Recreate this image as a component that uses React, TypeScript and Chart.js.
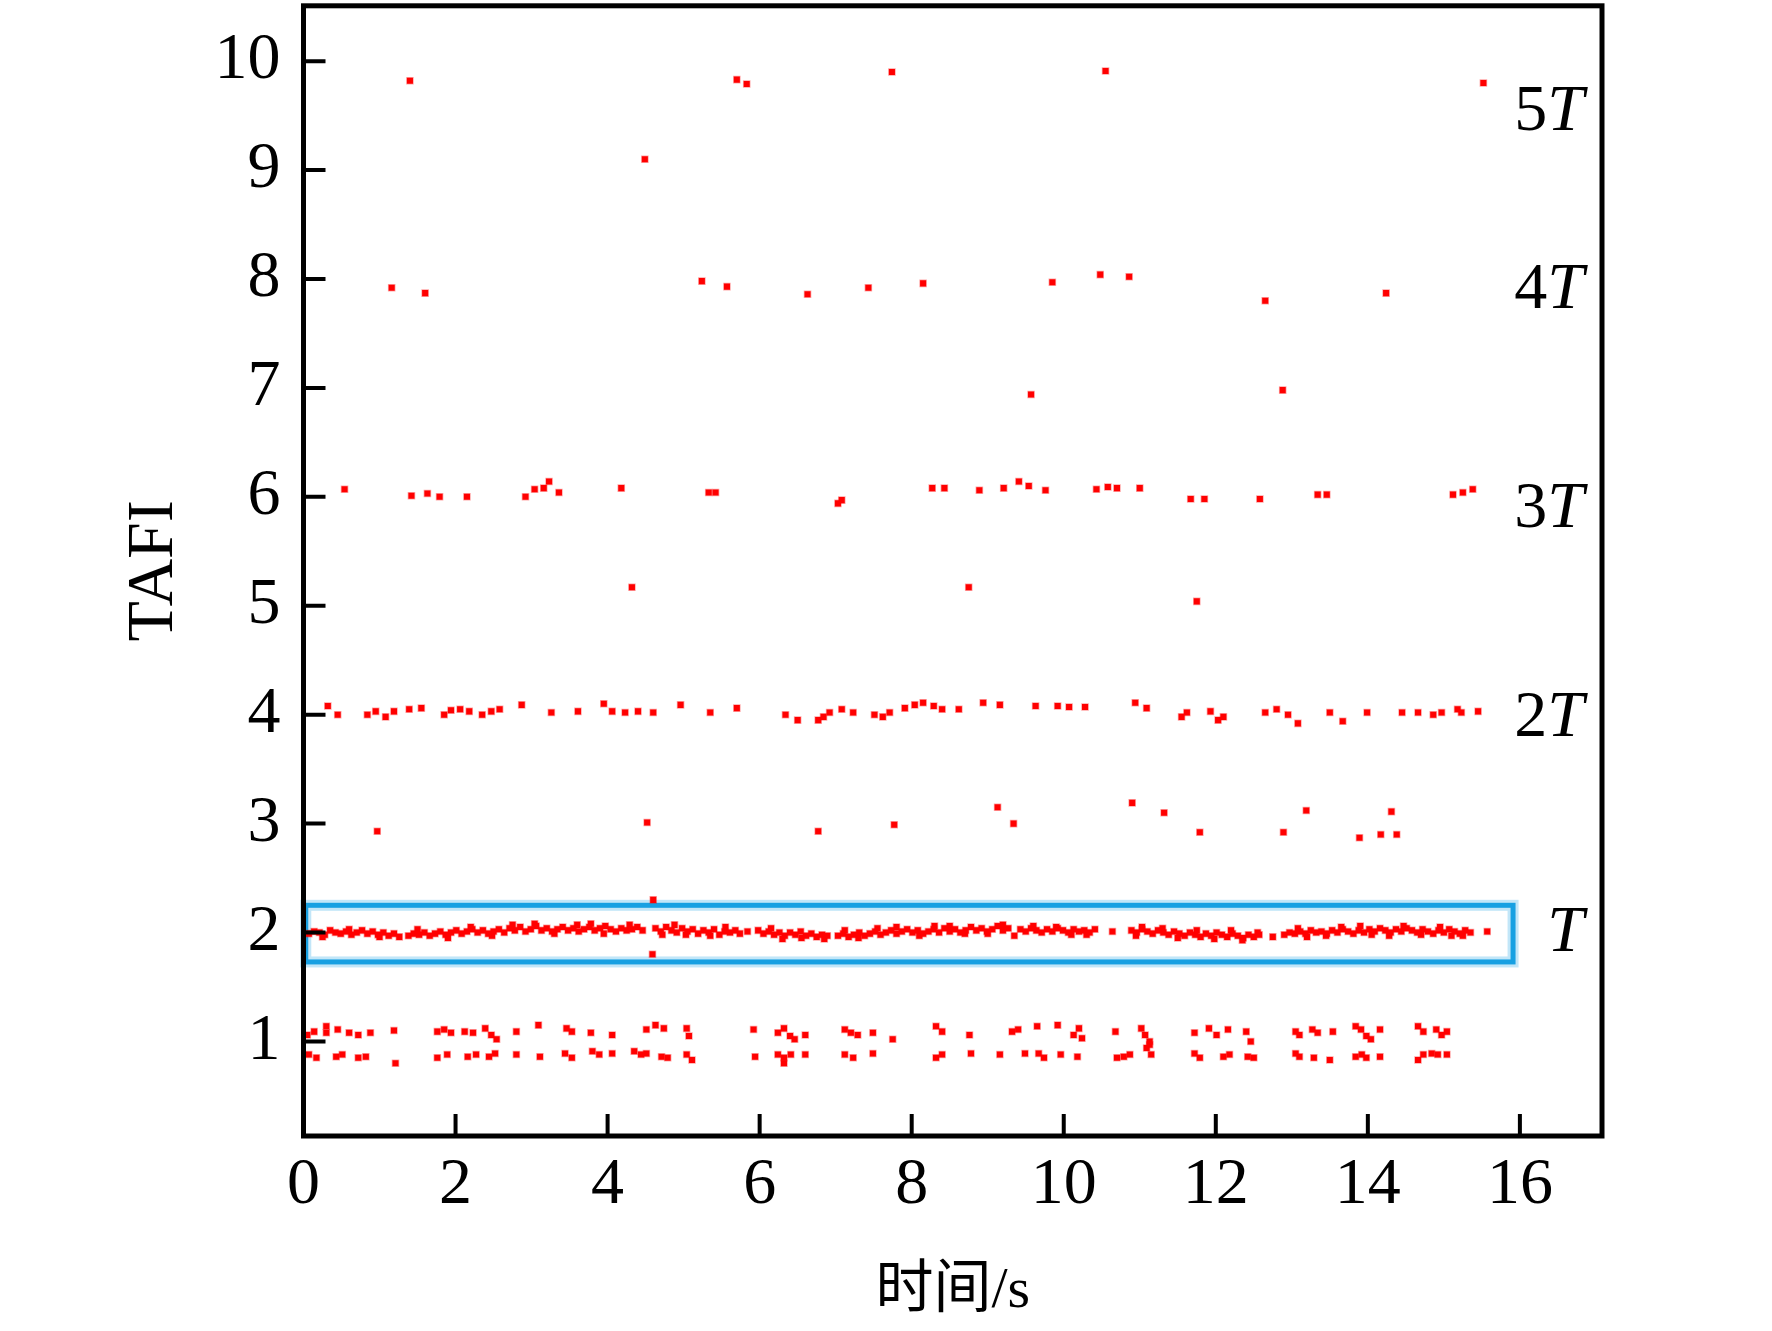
import { useEffect, useRef } from 'react';
import Chart from 'chart.js/auto';

// axis tick labels
const timeTicks = [0, 2, 4, 6, 8, 10, 12, 14, 16];
const tafiTicks = [1, 2, 3, 4, 5, 6, 7, 8, 9, 10];

// interval multiples written at the right edge and the TAFI level of each
const levelNames = ['5T', '4T', '3T', '2T', 'T'];
const levelTafi = [9.53, 7.89, 5.88, 3.96, 1.99];

// blue box round the T band
const boxTime = [0.03, 15.91];
const boxTafi = [1.73, 2.25];

type Pt = [number, number]; // [time s, TAFI]

const level10: Pt[] = [[1.40, 9.82], [5.70, 9.83], [5.83, 9.79], [7.74, 9.90], [10.55, 9.91], [15.52, 9.80]];
const level9: Pt[] = [[4.49, 9.10]];
const level8: Pt[] = [
  [1.16, 7.92], [1.60, 7.87], [5.24, 7.98], [5.57, 7.93], [6.63, 7.86], [7.43, 7.92],
  [8.15, 7.96], [9.85, 7.97], [10.48, 8.04], [10.86, 8.02], [12.65, 7.80], [14.24, 7.87],
];
const level7: Pt[] = [[9.57, 6.94], [12.88, 6.98]];
const level6: Pt[] = [
  [0.54, 6.07], [1.42, 6.01], [1.63, 6.03], [1.79, 6.00], [2.15, 6.00], [2.92, 6.00], [3.04, 6.07],
  [3.16, 6.08], [3.23, 6.14], [3.36, 6.04], [4.18, 6.08], [5.33, 6.04], [5.42, 6.04], [7.03, 5.94],
  [7.08, 5.97], [8.27, 6.08], [8.43, 6.08], [8.89, 6.06], [9.21, 6.08], [9.41, 6.14], [9.54, 6.10],
  [9.76, 6.06], [10.43, 6.07], [10.58, 6.09], [10.70, 6.08], [11.00, 6.08], [11.67, 5.98], [11.85, 5.98],
  [12.58, 5.98], [13.34, 6.02], [13.46, 6.02], [15.12, 6.02], [15.25, 6.04], [15.38, 6.07],
];
const level5: Pt[] = [[4.32, 5.17], [8.75, 5.17], [11.75, 5.04]];
const level4: Pt[] = [
  [0.32, 4.08], [0.45, 4.00], [0.84, 4.00], [0.95, 4.03], [1.08, 3.98], [1.19, 4.03], [1.39, 4.05],
  [1.55, 4.06], [1.85, 4.00], [1.94, 4.04], [2.06, 4.05], [2.18, 4.03], [2.35, 4.00], [2.47, 4.03],
  [2.58, 4.05], [2.87, 4.09], [3.26, 4.02], [3.61, 4.03], [3.95, 4.10], [4.06, 4.03], [4.23, 4.02],
  [4.40, 4.03], [4.60, 4.02], [4.96, 4.09], [5.35, 4.02], [5.70, 4.06], [6.34, 4.00], [6.50, 3.95],
  [6.77, 3.95], [6.84, 3.98], [6.92, 4.02], [7.08, 4.05], [7.23, 4.02], [7.51, 4.00], [7.62, 3.98],
  [7.71, 4.02], [7.91, 4.06], [8.04, 4.09], [8.15, 4.11], [8.29, 4.08], [8.40, 4.05], [8.62, 4.05],
  [8.94, 4.11], [9.16, 4.09], [9.63, 4.08], [9.92, 4.08], [10.07, 4.07], [10.28, 4.07], [10.94, 4.11],
  [11.09, 4.06], [11.55, 3.98], [11.62, 4.02], [11.93, 4.03], [12.03, 3.95], [12.10, 3.98], [12.65, 4.02],
  [12.80, 4.05], [12.95, 4.00], [13.08, 3.92], [13.50, 4.02], [13.67, 3.94], [13.99, 4.02], [14.45, 4.02],
  [14.66, 4.02], [14.86, 4.00], [14.97, 4.02], [15.18, 4.05], [15.23, 4.02], [15.45, 4.03],
];
const level3: Pt[] = [
  [0.97, 2.93], [4.52, 3.01], [6.77, 2.93], [7.77, 2.99], [9.13, 3.15], [9.34, 3.00], [10.90, 3.19],
  [11.32, 3.10], [11.79, 2.92], [12.89, 2.92], [13.19, 3.12], [13.89, 2.87], [14.17, 2.90], [14.31, 3.11],
  [14.38, 2.90],
];

// the dense T band, piece by piece
const bandT1: Pt[] = [
  [0.07, 1.99], [0.14, 2.01], [0.21, 2.00], [0.28, 1.98], [0.35, 2.02], [0.42, 2.00], [0.49, 1.99],
  [0.56, 2.01], [0.63, 1.98], [0.70, 2.00], [0.77, 2.02], [0.84, 1.99], [0.91, 2.01], [0.98, 1.98],
  [1.05, 2.00], [1.12, 1.97], [1.19, 1.99], [1.26, 1.96], [1.38, 1.97], [1.45, 1.99], [1.52, 1.98],
  [1.59, 2.00], [1.66, 1.97], [1.73, 1.99], [1.80, 2.01], [1.87, 1.98], [1.94, 2.00], [2.01, 2.02],
  [2.08, 1.99], [2.15, 2.01], [2.22, 2.03], [2.29, 2.00], [2.36, 2.02], [2.43, 1.99], [2.50, 2.01],
  [2.57, 2.03], [2.64, 2.00], [2.71, 2.04], [2.78, 2.02], [2.85, 2.05], [2.92, 2.01], [2.99, 2.03],
  [3.06, 2.06], [3.13, 2.02], [3.20, 2.04], [3.27, 2.01], [3.34, 2.03], [3.41, 2.05], [3.48, 2.02],
  [3.55, 2.04], [3.62, 2.01], [3.69, 2.03], [3.76, 2.05], [3.83, 2.02], [3.90, 2.04], [3.97, 2.06],
  [4.04, 2.03], [4.11, 2.01], [4.18, 2.04], [4.25, 2.02], [4.32, 2.03], [4.39, 2.05], [4.46, 2.02],
];
const bandT2: Pt[] = [
  [4.63, 2.04], [4.70, 2.01], [4.77, 2.05], [4.84, 2.02], [4.91, 2.00], [4.98, 2.04], [5.05, 2.01],
  [5.12, 2.03], [5.19, 1.99], [5.26, 2.02], [5.33, 2.00], [5.40, 2.03], [5.47, 1.98], [5.54, 2.01],
  [5.61, 2.00], [5.68, 2.02], [5.74, 1.99], [5.84, 2.01],
];
const bandT3: Pt[] = [
  [5.98, 2.02], [6.05, 1.99], [6.12, 2.01], [6.19, 1.98], [6.26, 2.00], [6.33, 1.97], [6.40, 2.00],
  [6.47, 1.98], [6.54, 2.01], [6.61, 1.97], [6.68, 1.99], [6.75, 1.96], [6.82, 1.98], [6.89, 1.97],
  [7.03, 1.97], [7.10, 1.99], [7.17, 1.96], [7.24, 1.98], [7.31, 2.00], [7.38, 1.97], [7.45, 1.99],
  [7.52, 2.01], [7.59, 1.98], [7.66, 2.00], [7.73, 2.02], [7.80, 1.99], [7.87, 2.01], [7.94, 2.03],
  [8.01, 2.00], [8.08, 2.02], [8.15, 1.99], [8.22, 2.01], [8.29, 2.03], [8.36, 2.00], [8.43, 2.04],
  [8.50, 2.01], [8.57, 2.03], [8.64, 2.00], [8.71, 2.02], [8.78, 2.05], [8.85, 2.02], [8.92, 2.04],
  [8.99, 2.01], [9.06, 2.03], [9.13, 2.06], [9.20, 2.02], [9.27, 2.04], [9.43, 2.03], [9.50, 2.01],
  [9.57, 2.04], [9.64, 2.02], [9.71, 2.00], [9.78, 2.03], [9.85, 2.01], [9.92, 2.04], [9.99, 2.02],
  [10.06, 2.00], [10.13, 2.03], [10.20, 2.01], [10.27, 2.02], [10.34, 2.00], [10.41, 2.03], [10.64, 2.01],
];
const bandT4: Pt[] = [
  [10.89, 2.02], [10.96, 2.00], [11.03, 2.03], [11.10, 2.01], [11.17, 1.99], [11.24, 2.02], [11.31, 2.00],
  [11.38, 1.98], [11.45, 2.01], [11.52, 1.99], [11.59, 1.97], [11.66, 2.00], [11.73, 1.98], [11.80, 1.96],
  [11.87, 1.99], [11.94, 1.97], [12.01, 2.00], [12.08, 1.98], [12.15, 1.96], [12.22, 1.99], [12.29, 1.97],
  [12.36, 1.95], [12.43, 1.98], [12.50, 1.96], [12.57, 1.98], [12.75, 1.96],
];
const bandT5: Pt[] = [
  [12.90, 1.98], [12.97, 2.00], [13.04, 1.99], [13.11, 2.01], [13.18, 1.99], [13.25, 2.02], [13.32, 2.00],
  [13.39, 2.01], [13.46, 1.99], [13.53, 2.02], [13.60, 2.00], [13.67, 2.03], [13.74, 2.01], [13.81, 1.99],
  [13.88, 2.02], [13.95, 2.00], [14.02, 2.03], [14.09, 2.01], [14.16, 2.04], [14.23, 2.02], [14.30, 2.00],
  [14.37, 2.03], [14.44, 2.01], [14.51, 2.04], [14.58, 2.02], [14.65, 2.00], [14.72, 2.03], [14.79, 2.01],
  [14.86, 1.99], [14.93, 2.02], [15.00, 2.00], [15.07, 2.03], [15.14, 2.01], [15.21, 1.99], [15.28, 2.02],
  [15.35, 2.00], [15.57, 2.01],
];
const bandTSpread: Pt[] = [
  [0.25, 1.96], [0.60, 2.03], [1.00, 1.96], [1.50, 2.03], [1.90, 1.95], [2.20, 2.05], [2.48, 1.97],
  [2.75, 2.07], [3.04, 2.08], [3.30, 1.99], [3.60, 2.07], [3.78, 2.08], [3.95, 1.99], [4.29, 2.07],
  [4.72, 1.98], [4.88, 2.07], [5.03, 1.98], [5.35, 1.97], [5.55, 2.05], [6.15, 2.04], [6.30, 1.94],
  [6.55, 1.95], [6.85, 1.94], [7.12, 2.02], [7.30, 1.95], [7.55, 2.04], [7.80, 2.05], [8.10, 1.97],
  [8.30, 2.06], [8.50, 2.06], [8.70, 1.99], [9.00, 1.99], [9.20, 2.07], [9.35, 1.97], [9.60, 2.06],
  [9.90, 2.05], [10.10, 1.98], [10.30, 1.98], [10.95, 1.97], [11.03, 2.05], [11.30, 2.04], [11.50, 1.95],
  [11.75, 2.02], [11.98, 1.94], [12.20, 2.02], [12.35, 1.93], [12.55, 2.00], [13.08, 2.04], [13.20, 1.96],
  [13.45, 1.97], [13.65, 2.05], [13.90, 2.06], [14.05, 1.98], [14.28, 1.97], [14.47, 2.06], [14.70, 1.98],
  [14.95, 2.05], [15.10, 1.97], [15.25, 1.97],
  [4.60, 2.30], [4.59, 1.80],
];

// the two rows near TAFI = 1
const band1Upper: Pt[] = [
  [0.05, 1.06], [0.14, 1.09], [0.30, 1.14], [0.30, 1.08], [0.45, 1.11], [0.60, 1.08], [0.72, 1.06],
  [0.88, 1.08], [1.19, 1.10], [1.76, 1.09], [1.85, 1.11], [1.94, 1.08], [2.12, 1.09], [2.23, 1.08],
  [2.39, 1.12], [2.47, 1.06], [2.54, 1.02], [2.80, 1.09], [3.09, 1.15], [3.46, 1.12], [3.53, 1.09],
  [3.78, 1.08], [4.06, 1.06], [4.51, 1.11], [4.63, 1.15], [4.74, 1.12], [5.04, 1.12], [5.07, 1.05],
  [5.92, 1.11], [6.24, 1.08], [6.32, 1.12], [6.40, 1.05], [6.46, 1.02], [6.60, 1.06], [7.12, 1.11],
  [7.20, 1.08], [7.29, 1.06], [7.49, 1.08], [7.75, 1.02], [8.32, 1.14], [8.40, 1.09], [8.76, 1.06],
  [9.32, 1.09], [9.40, 1.11], [9.65, 1.14], [9.92, 1.15], [10.13, 1.06], [10.20, 1.12], [10.24, 1.03],
  [10.68, 1.09], [11.02, 1.12], [11.07, 1.06], [11.13, 1.00], [11.13, 0.97], [11.72, 1.08], [11.91, 1.12],
  [12.01, 1.06], [12.16, 1.11], [12.40, 1.09], [12.46, 1.00], [13.05, 1.09], [13.10, 1.06], [13.27, 1.11],
  [13.34, 1.08], [13.54, 1.09], [13.84, 1.14], [13.91, 1.11], [13.98, 1.05], [14.04, 1.02], [14.16, 1.11],
  [14.66, 1.14], [14.73, 1.09], [14.90, 1.11], [14.97, 1.06], [15.04, 1.09],
];
const band1Lower: Pt[] = [
  [0.07, 0.88], [0.17, 0.85], [0.43, 0.86], [0.51, 0.88], [0.72, 0.85], [0.82, 0.86], [1.21, 0.80],
  [1.76, 0.85], [1.89, 0.88], [2.16, 0.86], [2.27, 0.88], [2.44, 0.86], [2.52, 0.89], [2.80, 0.88],
  [3.11, 0.86], [3.44, 0.89], [3.53, 0.85], [3.80, 0.91], [3.89, 0.88], [4.06, 0.89], [4.35, 0.91],
  [4.44, 0.88], [4.51, 0.89], [4.71, 0.86], [4.79, 0.85], [5.04, 0.88], [5.11, 0.83], [5.94, 0.86],
  [6.24, 0.88], [6.32, 0.85], [6.41, 0.88], [6.32, 0.80], [6.60, 0.88], [7.12, 0.88], [7.23, 0.85],
  [7.49, 0.89], [8.32, 0.85], [8.40, 0.88], [8.78, 0.89], [9.16, 0.88], [9.49, 0.89], [9.67, 0.89],
  [9.74, 0.85], [9.96, 0.88], [10.18, 0.86], [10.70, 0.85], [10.79, 0.86], [10.87, 0.88], [11.09, 0.94],
  [11.15, 0.88], [11.72, 0.89], [11.79, 0.85], [12.10, 0.86], [12.18, 0.88], [12.42, 0.86], [12.50, 0.85],
  [13.05, 0.89], [13.10, 0.86], [13.29, 0.85], [13.50, 0.83], [13.84, 0.86], [13.92, 0.88], [13.98, 0.85],
  [14.16, 0.86], [14.66, 0.83], [14.73, 0.88], [14.84, 0.89], [14.92, 0.88], [15.04, 0.88],
];

const allPoints: Pt[] = [
  ...level10, ...level9, ...level8, ...level7, ...level6, ...level5, ...level4, ...level3,
  ...bandT1, ...bandT2, ...bandT3, ...bandT4, ...bandT5, ...bandTSpread, ...band1Upper, ...band1Lower,
];

const serif = '"Liberation Serif", "Times New Roman", serif';

const framePlugin = {
  id: 'frameAndMarks',
  beforeDatasetsDraw(chart: any) {
    const { ctx, scales: { x, y } } = chart;
    const x0 = x.getPixelForValue(boxTime[0]);
    const x1 = x.getPixelForValue(boxTime[1]);
    const y0 = y.getPixelForValue(boxTafi[1]);
    const y1 = y.getPixelForValue(boxTafi[0]);
    ctx.save();
    ctx.strokeStyle = '#c2e6f8';
    ctx.lineWidth = 11;
    ctx.strokeRect(x0, y0, x1 - x0, y1 - y0);
    ctx.strokeStyle = '#17a0e2';
    ctx.lineWidth = 5;
    ctx.strokeRect(x0, y0, x1 - x0, y1 - y0);
    ctx.restore();
  },
  afterDraw(chart: any) {
    const { ctx, chartArea: { left, right, top, bottom }, scales: { x, y } } = chart;
    ctx.save();
    ctx.strokeStyle = '#000';
    ctx.lineWidth = 4;
    ctx.beginPath();
    timeTicks.forEach((v) => {
      const px = x.getPixelForValue(v);
      ctx.moveTo(px, bottom);
      ctx.lineTo(px, bottom - 22);
    });
    tafiTicks.forEach((v) => {
      const py = y.getPixelForValue(v);
      ctx.moveTo(left, py);
      ctx.lineTo(left + 22, py);
    });
    ctx.stroke();
    ctx.lineWidth = 5;
    ctx.strokeRect(left, top, right - left, bottom - top);

    // 5T, 4T ... labels, number upright and T italic
    ctx.fillStyle = '#000';
    ctx.textBaseline = 'middle';
    ctx.textAlign = 'left';
    const edge = right - 18;
    levelNames.forEach((name, i) => {
      const num = name.slice(0, -1);
      const py = y.getPixelForValue(levelTafi[i]);
      ctx.font = `italic 66px ${serif}`;
      const wT = ctx.measureText('T').width;
      ctx.font = `66px ${serif}`;
      const wN = num ? ctx.measureText(num).width : 0;
      if (num) ctx.fillText(num, edge - wT - wN, py);
      ctx.font = `italic 66px ${serif}`;
      ctx.fillText('T', edge - wT, py);
    });
    ctx.restore();
  },
};

export default function App() {
  const canvasRef = useRef<HTMLCanvasElement>(null);
  const chartRef = useRef<Chart | null>(null);

  useEffect(() => {
    if (!canvasRef.current) return;
    if (chartRef.current) chartRef.current.destroy();

    const tickFont = { family: serif, size: 66 };

    chartRef.current = new Chart(canvasRef.current, {
      type: 'scatter',
      data: {
        datasets: [
          {
            label: 'TAFI',
            data: allPoints.map(([t, v]) => ({ x: t, y: v })),
            backgroundColor: '#ff0000',
            borderColor: 'rgba(255, 0, 0, 0.35)',
            borderWidth: 1.5,
            pointStyle: 'rect',
            pointRadius: 4.3,
          },
        ],
      },
      options: {
        animation: false,
        responsive: true,
        maintainAspectRatio: false,
        layout: { padding: { top: 4, right: 170, bottom: 0, left: 0 } },
        plugins: {
          legend: { display: false },
          tooltip: { enabled: false },
        },
        scales: {
          x: {
            type: 'linear',
            min: 0,
            max: 17.08,
            afterBuildTicks: (s: any) => {
              s.ticks = timeTicks.map((v) => ({ value: v }));
            },
            afterFit: (s: any) => {
              s.height = 195;
              s.paddingLeft = 0;
              s.paddingRight = 0;
            },
            grid: { display: false, drawTicks: false },
            border: { display: false },
            ticks: {
              font: tickFont,
              color: '#000',
              padding: 10,
              maxRotation: 0,
              minRotation: 0,
              autoSkip: false,
              callback: (v) => String(v),
            },
            title: {
              display: true,
              text: '时间/s',
              color: '#000',
              font: { family: '"Liberation Serif", "Noto Sans CJK SC"', size: 58 },
              padding: { top: 0, bottom: 4 },
            },
          },
          y: {
            type: 'linear',
            min: 0.132,
            max: 10.508,
            afterBuildTicks: (s: any) => {
              s.ticks = tafiTicks.map((v) => ({ value: v }));
            },
            afterFit: (s: any) => {
              s.width = 303.5;
              s.paddingTop = 0;
              s.paddingBottom = 0;
            },
            grid: { display: false, drawTicks: false },
            border: { display: false },
            ticks: {
              font: tickFont,
              color: '#000',
              padding: 23,
              callback: (v) => String(v),
            },
            title: {
              display: true,
              text: 'TAFI',
              color: '#000',
              font: { family: serif, size: 66 },
              padding: { top: 115, bottom: 0 },
            },
          },
        },
      },
      plugins: [framePlugin],
    });

    return () => {
      if (chartRef.current) {
        chartRef.current.destroy();
        chartRef.current = null;
      }
    };
  }, []);

  return (
    <div style={{ position: 'absolute', left: 0, top: 0, width: 1772, height: 1331, background: '#fff' }}>
      <canvas ref={canvasRef}></canvas>
    </div>
  );
}
